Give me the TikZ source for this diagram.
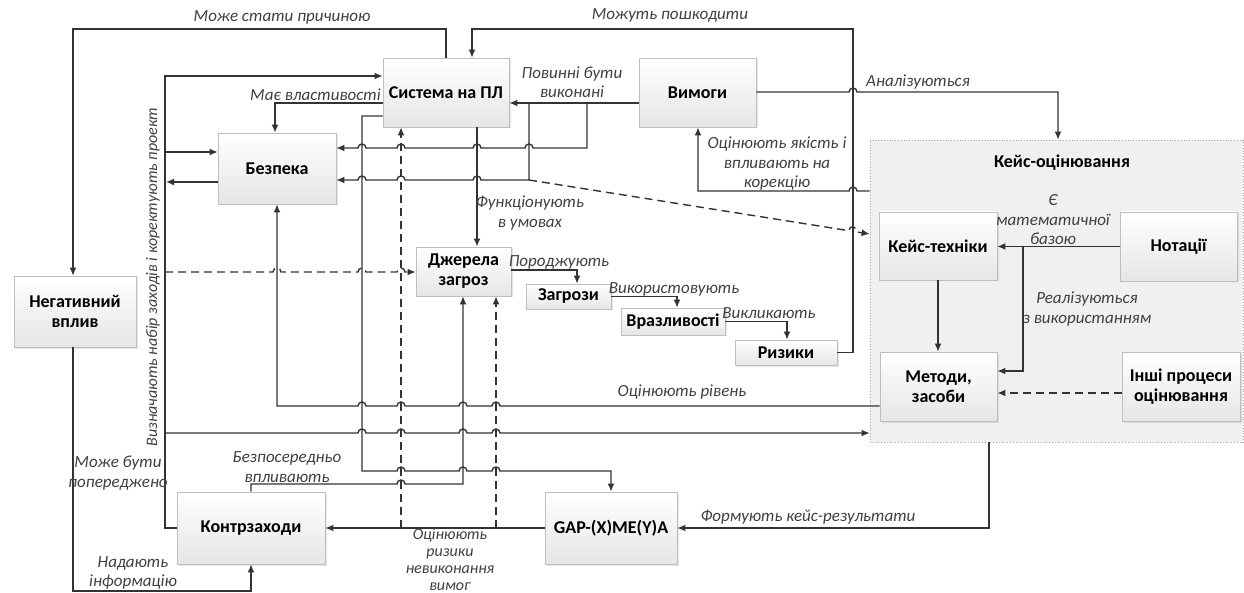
\documentclass[tikz,border=0pt]{standalone}
\usepackage{fontspec}
\setmainfont{Carlito}
\usetikzlibrary{arrows.meta,calc,shadows}
\definecolor{ln}{HTML}{333333}
\definecolor{lbl}{HTML}{404040}
\tikzset{
  box/.style={draw=gray!50, line width=0.8pt, top color=white, bottom color=gray!20,
    font=\bfseries\fontsize{18}{20}\selectfont, align=center, inner sep=1pt,
    drop shadow={shadow xshift=1.5pt,shadow yshift=-1.5pt,opacity=0.2}},
  lab/.style={font=\itshape\fontsize{17}{19.5}\selectfont, text=lbl, align=center, inner sep=0pt},
  con/.style={draw=ln, line width=1.4pt},
  arr/.style={con, -{Latex[length=8pt,width=7pt]}},
  dsh/.style={dash pattern=on 8pt off 5pt},
}
\newcommand\JR[2]{-- ({#1-4},#2) arc[start angle=180,end angle=360,radius=4]}
\newcommand\JL[2]{-- ({#1+4},#2) arc[start angle=0,end angle=-180,radius=4]}
\begin{document}
\begin{tikzpicture}[x=1pt,y=-1pt]
\useasboundingbox (0,0) rectangle (1244,593);
\clip (0,0) rectangle (1244,593);
\fill[white] (0,0) rectangle (1244,593);
% container
\node[draw=gray!70, dotted, line width=0.8pt, fill=gray!12, minimum width=373pt, minimum height=302pt, inner sep=0pt] (kejs) at (1056.5,291) {};
\node[font=\bfseries\fontsize{18}{20}\selectfont] (kejst) at (1062,163) {Кейс-оцінювання};
% boxes
\node[box, minimum width=126pt, minimum height=69pt] (sys) at (446,92.5) {Система на ПЛ};
\node[box, minimum width=117pt, minimum height=69pt] (vym) at (697.5,92.5) {Вимоги};
\node[box, minimum width=118pt, minimum height=71pt] (bez) at (277,168.5) {Безпека};
\node[box, minimum width=122pt, minimum height=71pt] (neg) at (75,311.5) {Негативний\\вплив};
\node[box, minimum width=95pt, minimum height=49pt] (dzh) at (463.5,271.5) {Джерела\\загроз};
\node[box, minimum width=85pt, minimum height=25pt] (zag) at (568.5,296.5) {Загрози};
\node[box, minimum width=104pt, minimum height=27pt] (vra) at (673,321.5) {Вразливості};
\node[box, minimum width=102pt, minimum height=25pt] (riz) at (786,352.5) {Ризики};
\node[box, minimum width=118pt, minimum height=68pt] (kt) at (938,246) {Кейс-техніки};
\node[box, minimum width=117pt, minimum height=69pt] (not) at (1178.5,246.5) {Нотації};
\node[box, minimum width=117pt, minimum height=69pt] (met) at (938.5,386.5) {Методи,\\засоби};
\node[box, minimum width=118pt, minimum height=69pt] (inshi) at (1181,386.5) {Інші процеси\\оцінювання};
\node[box, minimum width=148pt, minimum height=72pt] (kontr) at (251,528) {Контрзаходи};
\node[box, minimum width=132pt, minimum height=72pt] (gap) at (611,528) {GAP-(X)ME(Y)A};
% connectors
\draw[arr] (vym.west |- 0,103) -- (sys.east |- 0,103);
\coordinate (b1) at (587,103);
\coordinate (b2) at (529,103);
\draw[arr] (b1) -- (587,148) \JL{529}{148} \JL{477}{148} \JL{401}{148} \JL{362}{148} -- (bez.east |- 0,148);
\draw[arr] (b2) -- (529,180) \JL{477}{180} \JL{401}{180} \JL{362}{180} -- (bez.east |- 0,180);
\draw[arr,dsh] (529,180) -- (849,230.7) .. controls (849,224.7) and (857,226) .. (857,232) -- (kejs.west |- 0,234);
\draw[arr] (kejs.west |- 0,191) \JL{853}{191} -- (698,191) -- (vym.south -| 698,0);
\draw[arr] (vym.east |- 0,92) \JR{853}{92} -- (1058,92) -- (kejs.north -| 1058,0);
\draw[arr] (riz.east) -- (853,352.5) -- (853,29) -- (472,29) -- (sys.north -| 472,0);
\draw[arr] (sys.north) -- (446,29) -- (73,29) -- (neg.north -| 73,0);
\draw[arr] (neg.south -| 73,0) -- (73,591) -- (251,591) -- (kontr.south);
\draw[arr] (kontr.west) -- (165,528) -- (165,76) -- (sys.west |- 0,76);
\draw[arr] (165,152) -- (bez.west |- 0,152);
\draw[arr] (bez.west |- 0,182) -- (166,182);
\draw[arr,dsh] (165,272) \JR{277}{272} \JR{362}{272} \JR{401}{272} -- (dzh.west |- 0,272);
\draw[arr] (165,433) \JR{362}{433} \JR{401}{433} \JR{463}{433} \JR{496}{433} -- (kejs.west |- 0,433);
\draw[arr] (sys.west |- 0,103) -- (275,103) -- (bez.north -| 275,0);
\draw[arr] (sys.west |- 0,116) -- (362,116) -- (362,471) \JR{401}{471} \JR{463}{471} \JR{496}{471} -- (611,471) -- (gap.north);
\draw[arr] (sys.south -| 477,0) -- (dzh.north -| 477,0);
\draw[arr,dsh] (401,528) -- (sys.south -| 401,0);
\draw[arr,dsh] (496,528) -- (dzh.south -| 496,0);
\draw[arr] (kontr.north) -- (251,484) \JR{401}{484} -- (463,484) -- (dzh.south -| 463,0);
\draw[arr] (gap.west) -- (kontr.east);
\draw[arr] (kejs.south -| 989,0) -- (989,528) -- (gap.east);
\draw[arr] (met.west |- 0,406) \JL{496}{406} \JL{463}{406} \JL{401}{406} \JL{362}{406} -- (277,406) -- (bez.south);
\draw[arr] (dzh.east |- 0,270) -- (577,270) -- (zag.north -| 577,0);
\draw[arr] (zag.east) -- (677,296.5) -- (vra.north -| 677,0);
\draw[arr] (vra.east) -- (787,321.5) -- (riz.north -| 787,0);
\draw[arr] (not.west) -- (kt.east |- not.west);
\draw[arr] (1023,246.5) -- (1023,371) -- (met.east |- 0,371);
\draw[arr] (kt.south) -- (kt.south |- met.north);
\draw[arr,dsh] (inshi.west |- 0,393) -- (met.east |- 0,393);
% labels
\node[lab] (l1) at (282,17) {Може стати причиною};
\node[lab, anchor=east] (l2) at (381,95) {Має властивості};
\node[lab] (l3) at (572,82) {Повинні бути\\виконані};
\node[lab] (l4) at (670,15) {Можуть пошкодити};
\node[lab] (l5) at (918,82) {Аналізуються};
\node[lab] (l6) at (777,164) {Оцінюють якість і\\впливають на\\корекцію};
\node[lab] (l7) at (1053,220) {Є\\математичної\\базою};
\node[lab] (l8) at (1087,309) {Реалізуються\\з використанням};
\node[lab] (l9) at (530,213) {Функціонують\\в умовах};
\node[lab] (l10) at (559,262) {Породжують};
\node[lab] (l11) at (674,289) {Використовують};
\node[lab] (l12) at (769,313) {Викликають};
\node[lab] (l13) at (682,392) {Оцінюють рівень};
\node[lab] (l14) at (287,467) {Безпосередньо\\впливають};
\node[lab] (l15) at (118,473) {Може бути\\попереджено};
\node[lab] (l16) at (133,573) {Надають\\інформацію};
\node[lab, font=\itshape\fontsize{16}{17}\selectfont] (l17) at (450,559.5) {Оцінюють\\ризики\\невиконання\\вимог};
\node[lab] (l18) at (808,517) {Формують кейс-результати};
\node[lab, font=\itshape\fontsize{16}{18}\selectfont, rotate=90] (l19) at (153,277) {Визначають набір заходів і коректують проект};
\end{tikzpicture}
\end{document}
